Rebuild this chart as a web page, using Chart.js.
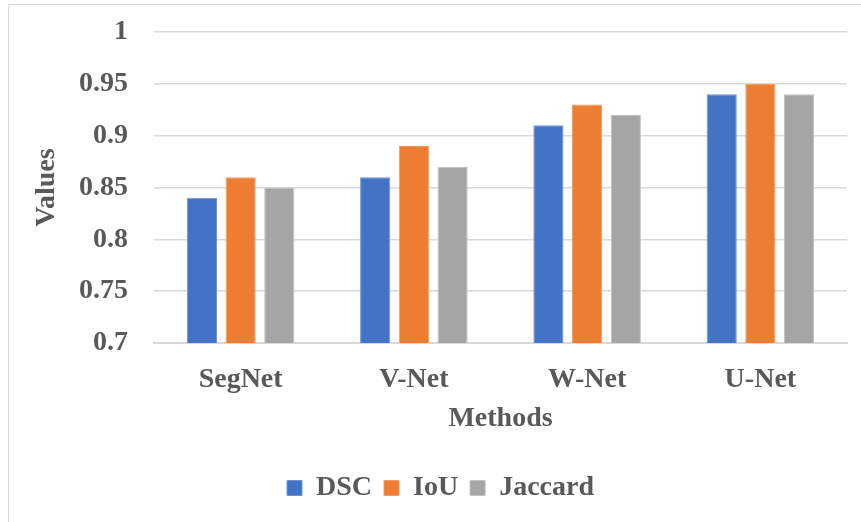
<!DOCTYPE html>
<html>
<head>
<meta charset="utf-8">
<script src="https://cdn.jsdelivr.net/npm/chart.js@4/dist/chart.umd.min.js"></script>
<style>
  html, body { margin: 0; padding: 0; background: #fff; }
  #wrap { position: relative; width: 861px; height: 522px; overflow: hidden; }
  #frame { position: absolute; left: 8px; top: 4px; width: 900px; height: 600px; border: 1.5px solid #d9d9d9; box-sizing: border-box; }
  #c { position: absolute; left: 0; top: 0; }
</style>
</head>
<body>
<div id="wrap">
  <div id="frame"></div>
  <canvas id="c" width="861" height="522"></canvas>
</div>
<script>
'use strict';

// ── data ──────────────────────────────────────────────────────────────────────
const methods = ['SegNet', 'V-Net', 'W-Net', 'U-Net'];
const dsc     = [0.84, 0.86, 0.91, 0.94];
const iou     = [0.86, 0.89, 0.93, 0.95];
const jaccard = [0.85, 0.87, 0.92, 0.94];

const TXT = '#595959';
const GRID = '#d9d9d9';
const FONT = { family: '"Liberation Serif", "Times New Roman", serif', size: 28, weight: 'bold' };

function ds(label, data, color, edge) {
  return {
    label, data,
    backgroundColor: color,
    borderColor: edge,
    borderWidth: 1,
    categoryPercentage: 0.67,
    barPercentage: 0.78,
  };
}

new Chart(document.getElementById('c'), {
  type: 'bar',
  data: {
    labels: methods,
    datasets: [
      ds('DSC', dsc, '#4472c4', '#6f93d6'),
      ds('IoU', iou, '#ed7d31', '#f29a5e'),
      ds('Jaccard', jaccard, '#a5a5a5', '#c2c2c2'),
    ]
  },
  options: {
    responsive: false,
    animation: false,
    layout: { padding: { left: 34, right: 14, top: 32, bottom: 10 } },
    plugins: {
      legend: {
        position: 'bottom',
        labels: { color: TXT, font: FONT, boxWidth: 15, boxHeight: 15, padding: 12 },
      },
      tooltip: { enabled: false },
    },
    scales: {
      x: {
        grid: { display: false, drawTicks: false },
        border: { display: true, color: GRID, width: 2 },
        ticks: { color: TXT, font: FONT, padding: 20 },
        title: { display: true, text: 'Methods', color: TXT, font: FONT, padding: { top: 0, bottom: 26 } },
        afterFit: s => { s.height = 119; },
      },
      y: {
        min: 0.7, max: 1,
        grid: { color: GRID, lineWidth: 1.5, drawTicks: false },
        border: { display: false },
        ticks: { color: TXT, font: FONT, stepSize: 0.05, padding: 26,
                 callback: v => String(Math.round(v * 100) / 100) },
        title: { display: true, text: 'Values', color: TXT, font: FONT, padding: { top: -4, bottom: 0 } },
        afterFit: s => { s.width = 120; s.paddingTop = 0; s.paddingBottom = 0; },
      },
    },
  }
});
</script>
</body>
</html>
